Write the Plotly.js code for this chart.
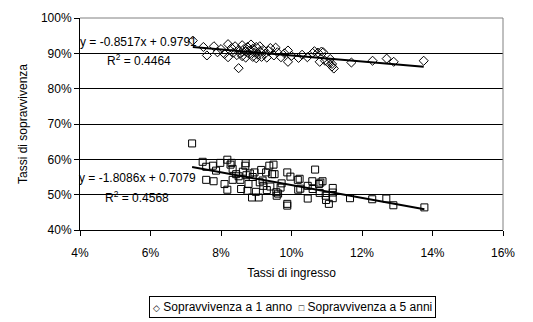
<!DOCTYPE html>
<html>
<head>
<meta charset="utf-8">
<script src="https://cdn.plot.ly/plotly-3.0.1.min.js"></script>
<style>html,body{margin:0;padding:0;background:#fff;}#chart{width:533px;height:322px;}</style>
</head>
<body>
<div id="chart"></div>
<script>
// Sopravvivenza a 1 anno (x: tasso di ingresso %, y: tasso di sopravvivenza %)
const x1 = [7.2,7.5,7.6,7.8,7.9,8.0,8.1,8.2,8.2,8.3,8.35,8.4,8.45,8.5,8.5,8.55,8.6,8.6,8.65,8.7,8.7,8.75,8.8,8.8,8.85,8.9,8.9,8.95,9.0,9.0,9.05,9.1,9.1,9.15,9.2,9.25,9.3,9.35,9.4,9.5,9.55,9.6,9.7,9.8,9.9,9.9,10.0,10.2,10.3,10.45,10.6,10.65,10.75,10.8,10.85,10.9,10.95,11.05,11.1,11.15,11.2,11.15,11.7,12.3,12.7,12.9,13.75];
const y1 = [93.6,91.8,89.4,92.0,90.3,91.2,89.8,92.6,88.9,91.5,90.2,92.0,89.5,85.8,91.0,90.0,92.3,89.2,91.2,90.5,88.8,91.8,89.8,90.8,92.5,89.0,91.3,90.2,88.6,91.8,89.6,90.6,92.0,89.0,91.0,89.9,88.8,90.7,91.5,89.4,91.6,90.3,88.9,90.0,90.8,87.6,89.3,88.7,89.6,88.9,90.1,90.6,90.2,87.6,90.5,90.3,87.9,87.3,88.4,86.3,85.7,87.0,87.4,87.9,88.5,87.6,87.9];
// Sopravvivenza a 5 anni
const x5 = [7.18,7.48,7.58,7.58,7.77,7.79,7.86,7.98,8.10,8.18,8.18,8.27,8.30,8.33,8.33,8.43,8.50,8.55,8.57,8.62,8.69,8.70,8.72,8.75,8.78,8.82,8.88,8.90,8.95,8.99,9.07,9.10,9.14,9.18,9.20,9.28,9.30,9.37,9.40,9.45,9.49,9.52,9.57,9.58,9.62,9.69,9.72,9.88,9.88,9.88,9.97,10.18,10.19,10.23,10.25,10.46,10.46,10.59,10.60,10.67,10.78,10.82,10.88,10.80,10.97,10.98,11.06,11.17,11.17,11.17,11.66,12.29,12.69,12.89,13.77];
const y5 = [64.5,59.3,57.9,54.2,58.2,53.8,56.8,59.0,53.0,59.9,51.4,58.5,59.0,57.3,54.2,55.8,55.2,54.2,51.6,56.5,58.2,58.9,55.5,51.1,53.0,56.0,49.2,55.0,56.3,50.8,49.2,53.5,57.0,54.0,52.5,56.3,51.3,58.2,52.3,55.8,58.5,55.8,50.7,49.7,50.3,52.0,53.2,56.3,47.4,46.9,55.1,54.2,51.4,54.5,51.7,52.5,48.9,53.8,51.6,57.1,53.0,53.4,53.8,50.5,49.7,48.5,47.4,51.9,50.6,49.0,49.0,48.7,48.9,47.0,46.4];

// Trendline equations as printed on the chart (y = m x + q, in fractions)
const trendSlope = [-0.8517, -1.8086];
const trendIntercept = [0.9791, 0.7079];
const trendR2 = [0.4464, 0.4568];
const seriesNames = ['Sopravvivenza a 1 anno', 'Sopravvivenza a 5 anni'];
const legendSymbols = ['\u25C7', '\u25A1'];

const FONT = 'Arial, "Liberation Sans", sans-serif';

function trendTrace(xs, i) {
  const xmin = Math.min(...xs), xmax = Math.max(...xs);
  const tx = [xmin, xmax];
  const ty = tx.map(v => (trendSlope[i] * v / 100 + trendIntercept[i]) * 100);
  return {x: tx, y: ty, mode: 'lines', type: 'scatter', showlegend: false, hoverinfo: 'skip',
          line: {color: '#000', width: 2}};
}

const data = [
  {x: x1, y: y1, mode: 'markers', type: 'scatter', name: seriesNames[0], showlegend: false,
   marker: {symbol: 'diamond-open', size: 7, color: '#000', line: {width: 1, color: '#000'}}},
  {x: x5, y: y5, mode: 'markers', type: 'scatter', name: seriesNames[1], showlegend: false,
   marker: {symbol: 'square-open', size: 7, color: '#000', line: {width: 1, color: '#000'}}},
  trendTrace(x1, 0),
  trendTrace(x5, 1)
];

function eqText(i) {
  const m = trendSlope[i], q = trendIntercept[i];
  return 'y = ' + m.toFixed(4) + 'x + ' + q.toFixed(4);
}

const sym = s => '<span style="font-size:9px">' + s + '</span>';
const legendText = sym(legendSymbols[0]) + ' ' + seriesNames[0] + '  ' + sym(legendSymbols[1]) + ' ' + seriesNames[1];

const AF = {family: FONT, size: 12, color: '#000'};

const layout = {
  width: 533, height: 322,
  margin: {l: 80, r: 30, t: 18, b: 92},
  paper_bgcolor: '#fff', plot_bgcolor: '#fff',
  font: AF,
  showlegend: false,
  xaxis: {range: [4, 16], dtick: 2, tick0: 4, ticksuffix: '%', showgrid: false, zeroline: false,
          showline: true, linecolor: '#000', linewidth: 1, ticks: 'outside', ticklen: 5, tickcolor: '#000',
          ticklabelstandoff: 7, tickfont: AF,
          title: {text: 'Tassi di ingresso', font: AF, standoff: 9}},
  yaxis: {range: [40, 100], dtick: 10, tick0: 40, ticksuffix: '%', showgrid: true, gridcolor: '#000', gridwidth: 1,
          zeroline: false, showline: true, linecolor: '#000', linewidth: 1, ticks: 'outside', ticklen: 5, tickcolor: '#000',
          tickfont: AF,
          title: {text: 'Tassi di sopravvivenza', font: AF, standoff: 10}},
  shapes: [
    {type: 'line', xref: 'paper', yref: 'paper', x0: 0, x1: 1, y0: 1, y1: 1, line: {color: '#808080', width: 1}, layer: 'above'},
    {type: 'line', xref: 'paper', yref: 'paper', x0: 1, x1: 1, y0: 0, y1: 1, line: {color: '#808080', width: 1}, layer: 'above'}
  ],
  annotations: [
    {xref: 'paper', yref: 'paper', x: -0.005, y: 0.887, xanchor: 'left', yanchor: 'middle', showarrow: false,
     text: eqText(0), font: AF},
    {xref: 'paper', yref: 'paper', x: 0.059, y: 0.802, xanchor: 'left', yanchor: 'middle', showarrow: false,
     text: 'R<sup>2</sup> = ' + trendR2[0].toFixed(4), font: AF},
    {xref: 'paper', yref: 'paper', x: -0.007, y: 0.245, xanchor: 'left', yanchor: 'middle', showarrow: false,
     text: eqText(1), font: AF},
    {xref: 'paper', yref: 'paper', x: 0.054, y: 0.156, xanchor: 'left', yanchor: 'middle', showarrow: false,
     text: 'R<sup>2</sup> = ' + trendR2[1].toFixed(4), font: AF},
    {xref: 'paper', yref: 'paper', x: 0.502, y: -0.365, xanchor: 'center', yanchor: 'middle', showarrow: false,
     text: legendText, font: AF, bordercolor: '#000', borderwidth: 1, borderpad: 3, bgcolor: '#fff'}
  ]
};

Plotly.newPlot('chart', data, layout, {displayModeBar: false, staticPlot: true});
</script>
</body>
</html>
